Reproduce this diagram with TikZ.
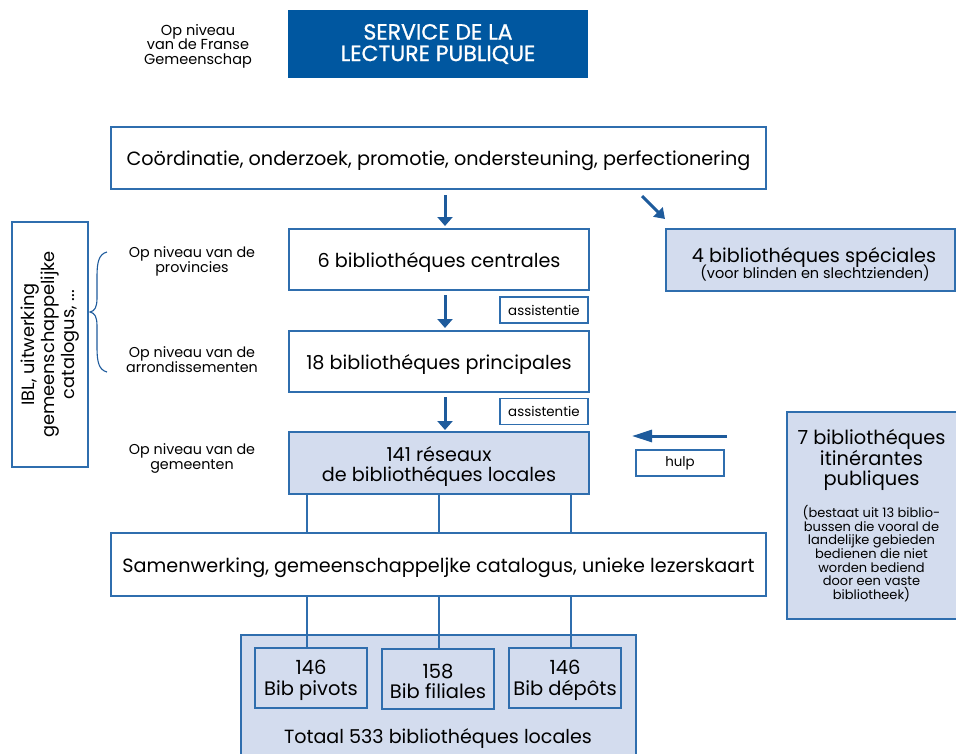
\documentclass[tikz,border=0pt]{standalone}
\usepackage{fontspec}
\setmainfont{Poppins}
\newfontfamily\titlefont[FakeBold=0.9]{Poppins}
\usetikzlibrary{arrows.meta}
\definecolor{darkb}{HTML}{0057A0}
\definecolor{bordc}{HTML}{2F6EAE}
\definecolor{arrc}{HTML}{1E5B9C}
\definecolor{lightb}{HTML}{D3DCEE}
\begin{document}
\begin{tikzpicture}[x=1pt,y=1pt,
  box/.style={draw=bordc, line width=1.2pt, inner sep=0pt, align=center, font=\fontsize{19.2}{20}\selectfont},
  sline/.style={text height=19pt, text depth=4pt},
  lbox/.style={box, fill=lightb},
  txt/.style={align=center, inner sep=0pt, font=\fontsize{19.2}{20}\selectfont},
  smallbox/.style={draw=bordc, line width=1.1pt, inner sep=0pt, minimum width=88pt, minimum height=26pt, font=\fontsize{13.4}{15}\selectfont},
  lvl/.style={align=center, font=\fontsize{14.3}{15}\selectfont, inner sep=0pt},
  arr/.style={draw=arrc, line width=3pt, -{Triangle[width=15pt,length=9pt]}},
  harr/.style={draw=arrc, line width=3pt, -{Triangle[width=12pt,length=20pt]}},
  conn/.style={draw=bordc, line width=1.1pt}]
\useasboundingbox (0,0) rectangle (956,-753);
% top
\node[align=center, font=\fontsize{14.5}{14.6}\selectfont, inner sep=0pt] (fr) at (198,-46) {Op niveau\\van de Franse\\Gemeenschap};
\node[fill=darkb, inner sep=0pt, minimum width=300pt, minimum height=68pt, text=white, align=center, font=\titlefont\fontsize{22}{21.5}\selectfont] (slp) at (438,-44) {SERVICE DE LA\\LECTURE PUBLIQUE};
% coordination
\node[box, sline, minimum width=655pt, minimum height=62pt] (coord) at (438.5,-158) {Coördinatie, onderzoek, promotie, ondersteuning, perfectionering};
% main column
\node[box, sline, minimum width=300pt, minimum height=61pt] (cent) at (439,-259.5) {6 bibliothéques centrales};
\node[box, sline, minimum width=300pt, minimum height=61pt] (princ) at (439,-361.5) {18 bibliothéques principales};
\node[lbox, minimum width=300pt, minimum height=62pt] (res) at (439,-463) {};
\node[txt] (restxt) at (439,-466) {141 réseaux\\de bibliothéques locales};
\node[smallbox] (as1) at (544,-310) {assistentie};
\node[smallbox] (as2) at (544,-411.5) {assistentie};
% arrows
\coordinate (a1s) at (445,-195);
\coordinate (a1e) at (445,-226);
\draw[arr] (a1s) -- (a1e);
\coordinate (a2s) at (445,-295);
\coordinate (a2e) at (445,-328);
\draw[arr] (a2s) -- (a2e);
\coordinate (a3s) at (445,-397);
\coordinate (a3e) at (445,-430);
\draw[arr] (a3s) -- (a3e);
\coordinate (d1s) at (642,-196);
\coordinate (d1e) at (665,-219);
\draw[draw=arrc, line width=3pt, -{Triangle[width=13pt,length=10pt]}] (d1s) -- (d1e);
% special
\node[lbox, minimum width=289pt, minimum height=62pt] (spec) at (810.5,-260) {};
\node[txt] (spec1) at (814,-257) {4 bibliothéques spéciales};
\node[inner sep=0pt, font=\fontsize{14.5}{15}\selectfont] (spec2) at (815,-273.5) {(voor blinden en slechtzienden)};
% itinerant
\node[lbox, minimum width=170pt, minimum height=207pt] (itin) at (872,-515.5) {};
\node[align=center, inner sep=0pt, font=\fontsize{19.4}{19.6}\selectfont] (itin1) at (871.5,-460) {7 bibliothéques\\itinérantes\\publiques};
\node[align=center, inner sep=0pt, font=\fontsize{13}{13.4}\selectfont] (itin2) at (871.5,-553.5) {(bestaat uit 13 biblio-\\bussen die vooral de\\landelijke gebieden\\bedienen die niet\\worden bediend\\door een vaste\\bibliotheek)};
\coordinate (hs) at (727,-436);
\coordinate (he) at (632,-436);
\draw[harr] (hs) -- (he);
\node[smallbox] (hulp) at (680,-463) {hulp};
% IBL
\node[box, minimum width=76pt, minimum height=245pt] (ibl) at (50,-344.5) {};
\node[rotate=90, align=center, inner sep=0pt, font=\fontsize{17.8}{20}\selectfont] (ibltxt) at (ibl.center) {IBL, uitwerking\\gemeenschappelijke\\catalogus, ...};
% brace
\draw[draw=arrc, line width=1.1pt] (107,-252) .. controls (99,-254) and (97,-262) .. (97,-276) -- (97,-298) .. controls (97,-307) and (95,-311) .. (90,-312) .. controls (95,-313) and (97,-317) .. (97,-326) -- (97,-348) .. controls (97,-362) and (99,-370) .. (107,-372);
% level labels
\node[lvl] (lp) at (192,-261.5) {Op niveau van de\\provincies};
\node[lvl] (la) at (192,-359.5) {Op niveau van de\\arrondissementen};
\node[lvl] (lg) at (192,-458.5) {Op niveau van de\\gemeenten};
% samenwerking
\node[box, sline, minimum width=655pt, minimum height=63pt] (sam) at (438.5,-564.5) {Samenwerking, gemeenschappeljke catalogus, unieke lezerskaart};
% bottom
\node[lbox, minimum width=395pt, minimum height=124pt] (tot) at (438.5,-697) {};
\node[inner sep=0pt, font=\fontsize{19.1}{21}\selectfont] (tottxt) at (438,-739) {Totaal 533 bibliothéques locales};
\node[lbox, minimum width=112pt, minimum height=60pt] (piv) at (311,-678) {};
\node[lbox, minimum width=112pt, minimum height=60pt] (fil) at (438,-679) {};
\node[lbox, minimum width=112pt, minimum height=60pt] (dep) at (565,-678) {};
\node[txt, font=\fontsize{19.5}{20.5}\selectfont] (pivt) at (311,-680.5) {146\\Bib pivots};
\node[txt, font=\fontsize{19.5}{20.5}\selectfont] (filt) at (438,-681.5) {158\\Bib filiales};
\node[txt, font=\fontsize{19.5}{20.5}\selectfont] (dept) at (565,-680.5) {146\\Bib dépôts};
% connectors
\foreach \xx/\nn in {307/a,439/b,571/c}{
  \coordinate (rt\nn) at (\xx,-494);
  \coordinate (st\nn) at (\xx,-533);
  \coordinate (sb\nn) at (\xx,-596);
  \draw[conn] (rt\nn) -- (st\nn);
}
\draw[conn] (sba) -- (sba |- piv.north);
\draw[conn] (sbb) -- (sbb |- fil.north);
\draw[conn] (sbc) -- (sbc |- dep.north);
\end{tikzpicture}
\end{document}
